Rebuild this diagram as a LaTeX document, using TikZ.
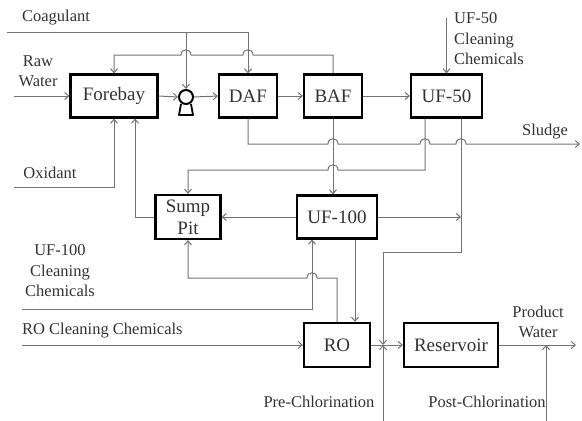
\documentclass[tikz,border=0pt]{standalone}
\usepackage{fontspec}
\setmainfont{Liberation Serif}
\usetikzlibrary{arrows.meta,calc}

% small bump where a line jumps over another one
\newcommand{\hoplr}[2]{-- ({#1-5},#2) .. controls ({#1-5},{#2-7}) and ({#1+5},{#2-7}) .. ({#1+5},#2)}
\newcommand{\hoprl}[2]{-- ({#1+5},#2) .. controls ({#1+5},{#2-7}) and ({#1-5},{#2-7}) .. ({#1-5},#2)}

\tikzset{
  unit/.style={draw=black, line width=2.2pt, fill=white, text=black!80,
    font=\fontsize{19}{22}\selectfont, inner sep=0pt, align=center},
  pipe/.style={draw=black!55, line width=1pt},
  flow/.style={pipe, -{Straight Barb[length=4pt,width=7pt]}},
  lbl/.style={text=black!80, font=\fontsize{16.5}{20.5}\selectfont, inner sep=0pt, align=center},
}

\begin{document}
\begin{tikzpicture}[x=1pt, y=1pt, yscale=-1]
\useasboundingbox (0,0) rectangle (582,421);

% treatment units
\node[unit, minimum width=87pt, minimum height=43pt] (forebay) at (114,96) {Forebay};
\node[unit, minimum width=58pt, minimum height=43pt] (daf) at (248,96) {DAF};
\node[unit, minimum width=58pt, minimum height=43pt] (baf) at (333,96) {BAF};
\node[unit, minimum width=71pt, minimum height=43pt] (uf50) at (446.5,96) {UF-50};
\node[unit, minimum width=65pt, minimum height=44pt] (sump) at (188,217) {Sump\\Pit};
\node[unit, minimum width=80pt, minimum height=43pt] (uf100) at (337,217) {UF-100};
\node[unit, minimum width=66pt, minimum height=44pt] (ro) at (337,345) {RO};
\node[unit, minimum width=94pt, minimum height=44pt] (res) at (451,345) {Reservoir};

% pump
\node[circle, draw=black, line width=2pt, minimum size=14pt, inner sep=0pt] (pump) at (186,97) {};
\draw[black, line width=1.8pt, line join=round] (181,104) -- (179,115) -- (193,115) -- (191,104);

% free ends of the lines
\coordinate (coagIn) at (7,32);
\coordinate (rawIn) at (14,96);
\coordinate (oxIn) at (14,187);
\coordinate (uf50chem) at (446.5,18);
\coordinate (sludgeOut) at (580,144);
\coordinate (uf100chem) at (22,309);
\coordinate (roChem) at (22,345);
\coordinate (roRes) at (383,345);
\coordinate (preCl) at (383,421);
\coordinate (postCl) at (546,421);
\coordinate (prodOut) at (576,345);
\coordinate (postJoin) at (546,345);
\coordinate (permJoin) at (461,217);

% coagulant dosing
\draw[flow] (coagIn) -- (daf.north |- coagIn) -- (daf.north);
\draw[flow] (pump.north |- coagIn) -- (pump.north);

% BAF backwash back to the forebay
\draw[flow] (baf.north) -- (333,55) \hoprl{248}{55} \hoprl{186}{55} -- (114,55) -- (forebay.north);

% main train
\draw[flow] (rawIn) -- (forebay.west);
\draw[flow] (forebay.east) -- (pump.west);
\draw[flow] (pump.east) -- (daf.west);
\draw[flow] (daf.east) -- (baf.west);
\draw[flow] (baf.east) -- (uf50.west);
\draw[flow] (uf50chem) -- (uf50.north);

% sludge
\draw[flow] (daf.south) -- (248,144) \hoplr{333}{144} \hoplr{425}{144} \hoplr{461}{144} -- (sludgeOut);

% UF-50 backwash to the sump pit
\draw[flow] ($(uf50.south)+(-21.5,0)$) -- (425,170) \hoprl{333}{170} -- (188,170) -- (sump.north);

% UF-50 permeate
\draw[flow] ($(uf50.south)+(14.5,0)$) -- (461,252) -- (383,252) -- (roRes);

% BAF to UF-100 and UF-100 outlets
\draw[flow] (baf.south) -- (baf.south |- uf100.north);
\draw[flow] (uf100.east) -- (permJoin);
\draw[flow] (uf100.west) -- (sump.east);
\draw[flow] ($(uf100.south)+(18,0)$) -- ($(ro.north)+(18,0)$);

% sump pit return and oxidant
\draw[flow] (sump.west) -- (135,217) -- ($(forebay.south)+(21,0)$);
\draw[flow] (oxIn) -- (114,187) -- (forebay.south);

% cleaning chemicals
\draw[flow] (uf100chem) -- (312,309) -- ($(uf100.south)+(-25,0)$);
\draw[flow] (roChem) -- (ro.west);

% RO reject to the sump pit
\draw[flow] (ro.north) -- (337,278) \hoprl{312}{278} -- (188,278) -- (sump.south);

% product side
\draw[flow] (ro.east) -- (res.west);
\draw[flow] (preCl) -- (roRes);
\draw[flow] (res.east) -- (prodOut);
\draw[flow] (postCl) -- (postJoin);

% labels
\node[lbl] (tCoag) at (56,18) {Coagulant};
\node[lbl] (tRaw) at (38,71) {Raw\\Water};
\node[lbl] (tOx) at (50,173) {Oxidant};
\node[lbl, anchor=west, align=left] (tUF50) at (454,39) {UF-50\\Cleaning\\Chemicals};
\node[lbl] (tSludge) at (545,132) {Sludge};
\node[lbl] (tUF100) at (60,271) {UF-100\\Cleaning\\Chemicals};
\node[lbl, anchor=west] (tRO) at (22,331) {RO Cleaning Chemicals};
\node[lbl] (tPre) at (319,402) {Pre-Chlorination};
\node[lbl] (tPost) at (487,402) {Post-Chlorination};
\node[lbl] (tProd) at (538,322) {Product\\Water};
\end{tikzpicture}
\end{document}
